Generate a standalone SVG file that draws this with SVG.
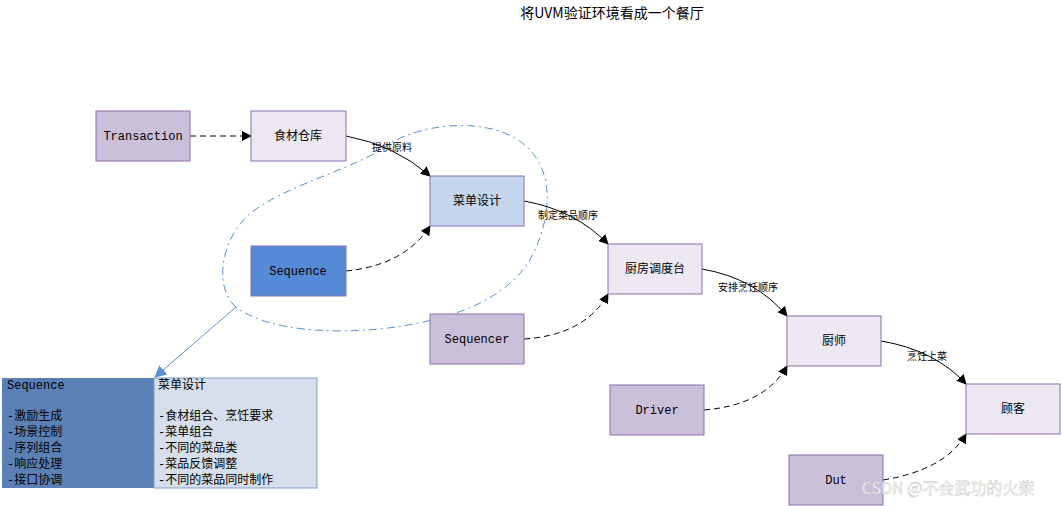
<svg xmlns="http://www.w3.org/2000/svg" width="1062" height="506" viewBox="0 0 1062 506">
<defs>
<style>
text{font-family:"Liberation Mono","Noto Sans CJK SC",monospace;font-size:12px;fill:#000}
.n{stroke:#8a6fb0;stroke-width:1}
.c{fill:none;stroke:#000;stroke-width:1}
.d{stroke-dasharray:6,4}
.l{font-size:10px;font-family:"Noto Sans CJK SC",sans-serif}
.t text{font-size:12px}
</style>
<marker id="a" markerWidth="10" markerHeight="10" refX="9" refY="5" orient="auto" markerUnits="userSpaceOnUse"><path d="M0,0 L10,5 L0,10 Z" fill="#000"/></marker>
<marker id="b" markerWidth="12" markerHeight="12" refX="11" refY="6" orient="auto" markerUnits="userSpaceOnUse"><path d="M0,0 L12,6 L0,12 Z" fill="#5b8fd6"/></marker>
</defs>
<rect width="1062" height="506" fill="#fff"/>
<text x="612" y="18" text-anchor="middle" style="font-size:14px;font-family:'Noto Sans CJK SC',sans-serif">将UVM验证环境看成一个餐厅</text>
<g id="blob"><path d="M236,307 C215,290 218,240 252,212 C292,182 360,168 392,142 C425,124 480,118 515,138 C552,160 555,205 535,250 C515,295 460,320 380,329 C300,336 255,322 236,307Z" fill="none" stroke="#5b8fd6" stroke-dasharray="8,4,2,4"/>
<line x1="236" y1="307" x2="155" y2="377" stroke="#5b8fd6" marker-end="url(#b)"/></g>
<g id="connectors">
<line class="c d" x1="190" y1="136" x2="251" y2="136" marker-end="url(#a)"/>
<path class="c" d="M346,136 Q395,145 430,176" marker-end="url(#a)"/>
<path class="c" d="M524,201 Q575,210 608,244" marker-end="url(#a)"/>
<path class="c" d="M702,269 Q755,278 787,316" marker-end="url(#a)"/>
<path class="c" d="M881,341 Q935,350 966,384" marker-end="url(#a)"/>
<path class="c d" d="M346,271 Q405,265 430,226" marker-end="url(#a)"/>
<path class="c d" d="M524,339 Q585,335 608,294" marker-end="url(#a)"/>
<path class="c d" d="M704,410 Q765,405 787,366" marker-end="url(#a)"/>
<path class="c d" d="M883,480 Q945,470 966,434" marker-end="url(#a)"/>
<text class="l" x="392" y="151" text-anchor="middle">提供原料</text>
<text class="l" x="568" y="219" text-anchor="middle">制定菜品顺序</text>
<text class="l" x="748" y="291" text-anchor="middle">安排烹饪顺序</text>
<text class="l" x="927" y="360" text-anchor="middle">烹饪上菜</text>
</g>
<g id="transaction"><rect class="n" x="96" y="111" width="94" height="50" fill="#cbc0da"/><text x="143" y="140" text-anchor="middle">Transaction</text></g>
<g id="shicai"><rect class="n" x="251" y="111" width="95" height="50" fill="#ede8f2"/><text x="298" y="140" text-anchor="middle">食材仓库</text></g>
<g id="caidan"><rect class="n" x="430" y="176" width="94" height="50" fill="#c5d7ef"/><text x="477" y="205" text-anchor="middle">菜单设计</text></g>
<g id="sequence"><rect class="n" x="251" y="246" width="95" height="50" fill="#558ad6"/><text x="298" y="275" text-anchor="middle">Sequence</text></g>
<g id="chufang"><rect class="n" x="608" y="244" width="94" height="50" fill="#ede8f2"/><text x="655" y="273" text-anchor="middle">厨房调度台</text></g>
<g id="sequencer"><rect class="n" x="430" y="314" width="94" height="50" fill="#cbc0da"/><text x="477" y="343" text-anchor="middle">Sequencer</text></g>
<g id="chushi"><rect class="n" x="787" y="316" width="94" height="50" fill="#ede8f2"/><text x="834" y="345" text-anchor="middle">厨师</text></g>
<g id="driver"><rect class="n" x="610" y="385" width="94" height="50" fill="#cbc0da"/><text x="657" y="414" text-anchor="middle">Driver</text></g>
<g id="guke"><rect class="n" x="966" y="384" width="94" height="50" fill="#ede8f2"/><text x="1013" y="413" text-anchor="middle">顾客</text></g>
<g id="dut"><rect class="n" x="789" y="455" width="94" height="50" fill="#cbc0da"/><text x="836" y="484" text-anchor="middle">Dut</text></g>
<g id="table" class="t">
<rect x="2" y="378" width="152" height="110" fill="#5a80b6"/>
<rect x="154" y="378" width="163" height="110" fill="#d6dfeb" stroke="#7f9fcf"/>
<text x="7" y="389">Sequence</text>
<text x="7" y="420">-激励生成</text><text x="7" y="436">-场景控制</text><text x="7" y="452">-序列组合</text><text x="7" y="468">-响应处理</text><text x="7" y="484">-接口协调</text>
<text x="158" y="389">菜单设计</text>
<text x="158" y="420">-食材组合、烹饪要求</text><text x="158" y="436">-菜单组合</text><text x="158" y="452">-不同的菜品类</text><text x="158" y="468">-菜品反馈调整</text><text x="158" y="484">-不同的菜品同时制作</text>
</g>
<text x="948" y="494" text-anchor="middle" style="font-size:16px;fill:#ffffff;stroke:#bbb;stroke-width:0.4;font-family:'Noto Sans CJK SC',sans-serif">CSDN @不会武功的火柴</text>
</svg>
